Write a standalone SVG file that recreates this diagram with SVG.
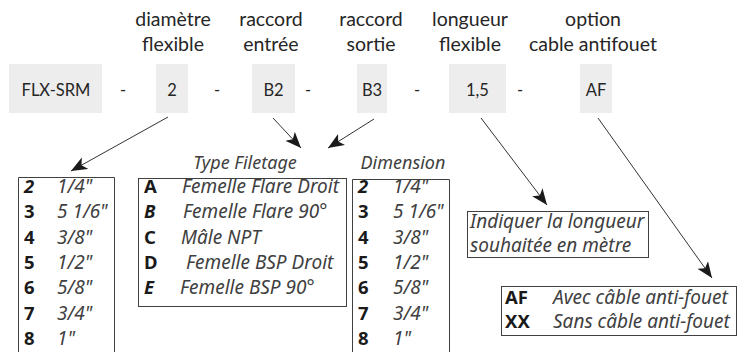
<svg xmlns="http://www.w3.org/2000/svg" width="745" height="352" viewBox="0 0 745 352">
<defs>
<style>
.lbl{font-family:Lato,"Liberation Sans",sans-serif;font-size:19.5px;fill:#262626;text-anchor:middle}
.code{font-family:Lato,"Liberation Sans",sans-serif;font-size:16.5px;fill:#262626;text-anchor:middle}
.cbox{fill:#ededed;stroke:none}
.tbox{fill:#fff;stroke:#404040;stroke-width:1}
.b{font-family:"Noto Sans","Open Sans",sans-serif;font-size:18.5px;font-weight:bold;fill:#1a1a1a}
.bi{font-family:"Noto Sans","Open Sans",sans-serif;font-size:18.5px;font-weight:bold;font-style:italic;fill:#1a1a1a}
.i{font-family:"Noto Sans","Open Sans",sans-serif;font-size:19px;font-style:italic;fill:#404040}
.hd{font-family:"Noto Sans","Open Sans",sans-serif;font-size:18px;font-style:italic;fill:#404040;text-anchor:middle}
.conn{stroke:#333;stroke-width:1;fill:none;marker-end:url(#ah)}
</style>
<marker id="ah" markerUnits="userSpaceOnUse" markerWidth="17" markerHeight="14" refX="16" refY="7" orient="auto">
<path d="M0,0.5 L16,7 L0,13.5 L4,7 Z" fill="#1a1a1a"/>
</marker>
</defs>

<g id="labels">
<text class="lbl" x="173" y="26">diamètre</text>
<text class="lbl" x="173" y="51">flexible</text>
<text class="lbl" x="271" y="26">raccord</text>
<text class="lbl" x="271" y="51">entrée</text>
<text class="lbl" x="371" y="26">raccord</text>
<text class="lbl" x="371" y="51">sortie</text>
<text class="lbl" x="470" y="26">longueur</text>
<text class="lbl" x="470" y="51">flexible</text>
<text class="lbl" x="593" y="26">option</text>
<text class="lbl" x="593" y="51">cable antifouet</text>
</g>

<g id="code">
<g id="n-flx"><rect class="cbox" x="9" y="64" width="93" height="49"/><text class="code" x="56" y="96">FLX-SRM</text></g>
<text class="code" x="123" y="96">-</text>
<g id="n-dia"><rect class="cbox" x="156" y="64" width="32" height="49"/><text class="code" x="172" y="96">2</text></g>
<text class="code" x="217" y="96">-</text>
<g id="n-in"><rect class="cbox" x="252" y="64" width="43" height="49"/><text class="code" x="273.5" y="96">B2</text></g>
<text class="code" x="308" y="96">-</text>
<g id="n-out"><rect class="cbox" x="357" y="64" width="30" height="49"/><text class="code" x="372" y="96">B3</text></g>
<text class="code" x="417" y="96">-</text>
<g id="n-len"><rect class="cbox" x="449" y="64" width="57" height="49"/><text class="code" x="477.5" y="96">1,5</text></g>
<text class="code" x="520" y="96">-</text>
<g id="n-af"><rect class="cbox" x="580" y="64" width="32" height="49"/><text class="code" x="596" y="96">AF</text></g>
</g>

<g id="connectors">
<line class="conn" x1="168" y1="117" x2="71" y2="171"/>
<line class="conn" x1="273" y1="118" x2="301" y2="148"/>
<line class="conn" x1="374" y1="119" x2="328" y2="148"/>
<line class="conn" x1="481" y1="118" x2="547" y2="205"/>
<line class="conn" x1="598" y1="118" x2="712" y2="278"/>
</g>

<g id="t-diam">
<path class="tbox" d="M18.5,360 V177.5 H114.5 V360"/>
<text class="bi" x="24" y="193">2</text><text class="i" x="57" y="193">1/4"</text>
<text class="b" x="24" y="218">3</text><text class="i" x="57" y="218">5 1/6"</text>
<text class="b" x="24" y="243.5">4</text><text class="i" x="57" y="243.5">3/8"</text>
<text class="b" x="24" y="269">5</text><text class="i" x="57" y="269">1/2"</text>
<text class="b" x="24" y="294">6</text><text class="i" x="57" y="294">5/8"</text>
<text class="b" x="24" y="319.5">7</text><text class="i" x="57" y="319.5">3/4"</text>
<text class="b" x="24" y="345">8</text><text class="i" x="57" y="345">1"</text>
</g>

<g id="t-type">
<text class="hd" x="245" y="169">Type Filetage</text>
<rect class="tbox" x="138.5" y="178.5" width="208" height="128"/>
<text class="b" x="144" y="193">A</text><text class="i" x="182" y="193">Femelle Flare Droit</text>
<text class="bi" x="144" y="218">B</text><text class="i" x="183" y="218">Femelle Flare 90°</text>
<text class="b" x="144" y="243.5">C</text><text class="i" x="181" y="243.5">Mâle NPT</text>
<text class="b" x="144" y="269">D</text><text class="i" x="186" y="269">Femelle BSP Droit</text>
<text class="bi" x="144" y="294">E</text><text class="i" x="180" y="294">Femelle BSP 90°</text>
</g>

<g id="t-dim">
<text class="hd" x="403" y="169">Dimension</text>
<path class="tbox" d="M352.5,360 V179.5 H449.5 V360"/>
<text class="bi" x="358" y="193">2</text><text class="i" x="393" y="193">1/4"</text>
<text class="b" x="358" y="218">3</text><text class="i" x="393" y="218">5 1/6"</text>
<text class="b" x="358" y="243.5">4</text><text class="i" x="393" y="243.5">3/8"</text>
<text class="b" x="358" y="269">5</text><text class="i" x="393" y="269">1/2"</text>
<text class="b" x="358" y="294">6</text><text class="i" x="393" y="294">5/8"</text>
<text class="b" x="358" y="319.5">7</text><text class="i" x="393" y="319.5">3/4"</text>
<text class="b" x="358" y="345">8</text><text class="i" x="393" y="345">1"</text>
</g>

<g id="t-len">
<rect class="tbox" x="467.5" y="211.5" width="181" height="46"/>
<text class="i" x="470" y="228">Indiquer la longueur</text>
<text class="i" x="470" y="252">souhaitée en mètre</text>
</g>

<g id="t-af">
<rect class="tbox" x="501.5" y="286.5" width="235" height="49"/>
<text class="b" x="505" y="304">AF</text><text class="i" x="553" y="304">Avec câble anti-fouet</text>
<text class="b" x="505" y="328">XX</text><text class="i" x="553" y="328">Sans câble anti-fouet</text>
</g>
</svg>
